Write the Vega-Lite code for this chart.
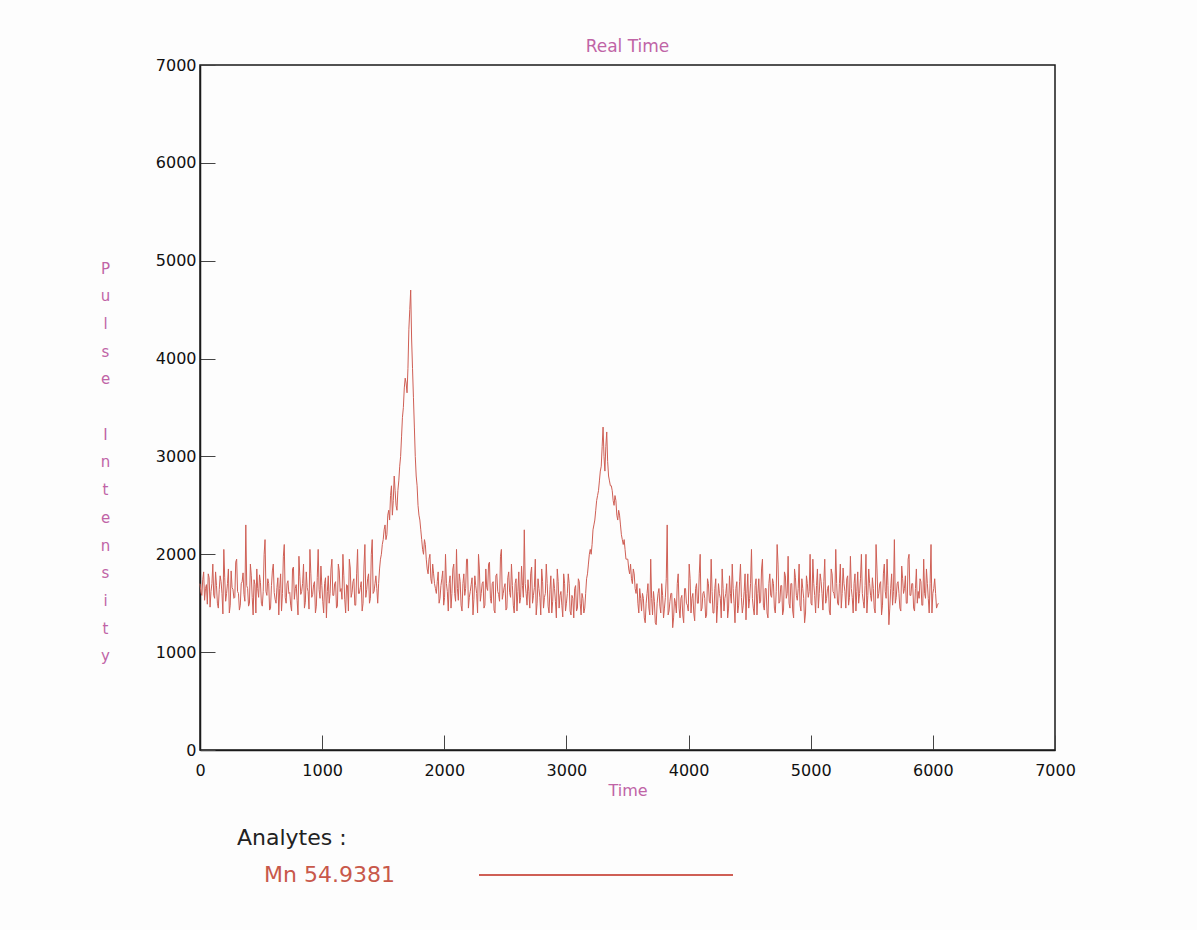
{
"$schema": "https://vega.github.io/schema/vega-lite/v6.json",
"width": 855, "height": 685,
"autosize": {"type": "none"},
"padding": {"left": 200, "top": 65, "right": 142, "bottom": 180},
"background": "#fdfdfd",
"title": {"text": "Real Time", "fontSize": 17, "color": "#c064a6", "font": "DejaVu Sans", "fontWeight": "normal", "offset": 1},
"config": {"view": {"stroke": "#1a1a1a", "strokeWidth": 1.5}, "font": "DejaVu Sans"},
"data": {"values": [
{"t":0,"v":1700},{"t":15,"v":1580},{"t":30,"v":1820},{"t":45,"v":1650},{"t":60,"v":1490},{"t":75,"v":1760},{"t":90,"v":1620},{"t":105,"v":1900},{"t":120,"v":1550},{"t":135,"v":1680},{"t":150,"v":1450},{"t":165,"v":1780},{"t":180,"v":1600},{"t":195,"v":2050},{"t":210,"v":1520},{"t":225,"v":1700},{"t":240,"v":1400},{"t":255,"v":1830},{"t":270,"v":1640},{"t":285,"v":1560},{"t":300,"v":1950},{"t":315,"v":1600},{"t":330,"v":1480},{"t":345,"v":1720},{"t":360,"v":1590},{"t":375,"v":2300},{"t":390,"v":1650},{"t":405,"v":1500},{"t":420,"v":1780},{"t":435,"v":1380},{"t":450,"v":1690},{"t":465,"v":1850},{"t":480,"v":1560},{"t":495,"v":1710},{"t":510,"v":1470},{"t":525,"v":2000},{"t":540,"v":1620},{"t":555,"v":1750},{"t":570,"v":1430},{"t":585,"v":1680},{"t":600,"v":1900},{"t":615,"v":1540},{"t":630,"v":1660},{"t":645,"v":1380},{"t":660,"v":1800},{"t":675,"v":1600},{"t":690,"v":2100},{"t":705,"v":1500},{"t":720,"v":1730},{"t":735,"v":1610},{"t":750,"v":1420},{"t":765,"v":1870},{"t":780,"v":1650},{"t":795,"v":1530},{"t":810,"v":1980},{"t":825,"v":1590},{"t":840,"v":1700},{"t":855,"v":1450},{"t":870,"v":1820},{"t":885,"v":1620},{"t":900,"v":2050},{"t":915,"v":1560},{"t":930,"v":1690},{"t":945,"v":1400},{"t":960,"v":1760},{"t":975,"v":1640},{"t":990,"v":1880},{"t":1005,"v":1520},{"t":1020,"v":1700},{"t":1035,"v":1350},{"t":1050,"v":1780},{"t":1065,"v":1600},{"t":1080,"v":1950},{"t":1095,"v":1580},{"t":1110,"v":1720},{"t":1125,"v":1470},{"t":1140,"v":1830},{"t":1155,"v":1650},{"t":1170,"v":2000},{"t":1185,"v":1540},{"t":1200,"v":1690},{"t":1215,"v":1420},{"t":1230,"v":1860},{"t":1245,"v":1610},{"t":1260,"v":1750},{"t":1275,"v":1480},{"t":1290,"v":2050},{"t":1305,"v":1600},{"t":1320,"v":1720},{"t":1335,"v":1500},{"t":1350,"v":2100},{"t":1365,"v":1640},{"t":1380,"v":1800},{"t":1395,"v":1550},{"t":1410,"v":2150},{"t":1425,"v":1620},{"t":1440,"v":1780},
{"t":1455,"v":1500},{"t":1470,"v":1850},{"t":1485,"v":2000},{"t":1500,"v":2150},{"t":1515,"v":2300},{"t":1530,"v":2200},{"t":1545,"v":2450},{"t":1560,"v":2600},{"t":1575,"v":2400},{"t":1590,"v":2800},{"t":1605,"v":2500},{"t":1620,"v":2650},{"t":1635,"v":2900},{"t":1650,"v":3200},{"t":1665,"v":3500},{"t":1680,"v":3800},{"t":1695,"v":3650},{"t":1710,"v":4300},{"t":1725,"v":4700},{"t":1740,"v":3900},{"t":1755,"v":3300},{"t":1770,"v":2800},{"t":1785,"v":2500},{"t":1800,"v":2350},{"t":1815,"v":2150},{"t":1830,"v":2000},{"t":1845,"v":2100},{"t":1860,"v":1850},{"t":1875,"v":1950},{"t":1890,"v":1750},{"t":1905,"v":1900},{"t":1920,"v":1700},
{"t":1935,"v":1600},{"t":1950,"v":1820},{"t":1965,"v":1550},{"t":1980,"v":1750},{"t":1995,"v":1480},{"t":2010,"v":2000},{"t":2025,"v":1620},{"t":2040,"v":1700},{"t":2055,"v":1450},{"t":2070,"v":1850},{"t":2085,"v":1600},{"t":2100,"v":2050},{"t":2115,"v":1530},{"t":2130,"v":1720},{"t":2145,"v":1420},{"t":2160,"v":1800},{"t":2175,"v":1650},{"t":2190,"v":1950},{"t":2205,"v":1560},{"t":2220,"v":1690},{"t":2235,"v":1380},{"t":2250,"v":1780},{"t":2265,"v":1600},{"t":2280,"v":2000},{"t":2295,"v":1520},{"t":2310,"v":1700},{"t":2325,"v":1450},{"t":2340,"v":1850},{"t":2355,"v":1630},{"t":2370,"v":1920},{"t":2385,"v":1500},{"t":2400,"v":1720},{"t":2415,"v":1400},{"t":2430,"v":1800},{"t":2445,"v":1590},{"t":2460,"v":1980},{"t":2475,"v":1540},{"t":2490,"v":1660},{"t":2505,"v":1430},{"t":2520,"v":1760},{"t":2535,"v":1610},{"t":2550,"v":1900},{"t":2565,"v":1480},{"t":2580,"v":1700},{"t":2595,"v":1420},{"t":2610,"v":1820},{"t":2625,"v":1560},{"t":2640,"v":1680},{"t":2655,"v":2250},{"t":2670,"v":1600},{"t":2685,"v":1740},{"t":2700,"v":1450},{"t":2715,"v":1870},{"t":2730,"v":1580},{"t":2745,"v":1950},{"t":2760,"v":1500},{"t":2775,"v":1650},{"t":2790,"v":1380},{"t":2805,"v":1720},{"t":2820,"v":1560},{"t":2835,"v":1900},{"t":2850,"v":1470},{"t":2865,"v":1640},{"t":2880,"v":1400},{"t":2895,"v":1750},{"t":2910,"v":1520},{"t":2925,"v":1850},{"t":2940,"v":1450},{"t":2955,"v":1620},{"t":2970,"v":1360},{"t":2985,"v":1700},{"t":3000,"v":1500},{"t":3015,"v":1800},{"t":3030,"v":1420},{"t":3045,"v":1580},{"t":3060,"v":1350},{"t":3075,"v":1680},{"t":3090,"v":1450},{"t":3105,"v":1720},{"t":3120,"v":1380},{"t":3135,"v":1550},
{"t":3150,"v":1450},{"t":3165,"v":1750},{"t":3180,"v":1900},{"t":3195,"v":2050},{"t":3210,"v":2100},{"t":3225,"v":2300},{"t":3240,"v":2450},{"t":3255,"v":2600},{"t":3270,"v":2750},{"t":3285,"v":2900},{"t":3300,"v":3300},{"t":3315,"v":2850},{"t":3330,"v":3250},{"t":3345,"v":2800},{"t":3360,"v":2700},{"t":3375,"v":2650},{"t":3390,"v":2500},{"t":3405,"v":2550},{"t":3420,"v":2350},{"t":3435,"v":2400},{"t":3450,"v":2200},{"t":3465,"v":2100},{"t":3480,"v":2050},{"t":3495,"v":1950},{"t":3510,"v":1850},{"t":3525,"v":1900},{"t":3540,"v":1700},{"t":3555,"v":1800},{"t":3570,"v":1600},
{"t":3585,"v":1500},{"t":3600,"v":1650},{"t":3615,"v":1420},{"t":3630,"v":1550},{"t":3645,"v":1300},{"t":3660,"v":1600},{"t":3675,"v":1450},{"t":3690,"v":1950},{"t":3705,"v":1380},{"t":3720,"v":1520},{"t":3735,"v":1280},{"t":3750,"v":1600},{"t":3765,"v":1470},{"t":3780,"v":1700},{"t":3795,"v":1350},{"t":3810,"v":1560},{"t":3825,"v":2300},{"t":3840,"v":1420},{"t":3855,"v":1600},{"t":3870,"v":1250},{"t":3885,"v":1550},{"t":3900,"v":1400},{"t":3915,"v":1800},{"t":3930,"v":1350},{"t":3945,"v":1580},{"t":3960,"v":1300},{"t":3975,"v":1650},{"t":3990,"v":1480},{"t":4005,"v":1900},{"t":4020,"v":1400},{"t":4035,"v":1600},{"t":4050,"v":1320},{"t":4065,"v":1700},{"t":4080,"v":1500},{"t":4095,"v":2000},{"t":4110,"v":1450},{"t":4125,"v":1620},{"t":4140,"v":1350},{"t":4155,"v":1750},{"t":4170,"v":1520},{"t":4185,"v":1950},{"t":4200,"v":1400},{"t":4215,"v":1650},{"t":4230,"v":1300},{"t":4245,"v":1700},{"t":4260,"v":1550},{"t":4275,"v":1850},{"t":4290,"v":1420},{"t":4305,"v":1600},{"t":4320,"v":1350},{"t":4335,"v":1780},{"t":4350,"v":1500},{"t":4365,"v":1650},{"t":4380,"v":1300},{"t":4395,"v":1720},{"t":4410,"v":1480},{"t":4425,"v":1900},{"t":4440,"v":1400},{"t":4455,"v":1620},{"t":4470,"v":1330},{"t":4485,"v":1800},{"t":4500,"v":1550},{"t":4515,"v":2050},{"t":4530,"v":1450},{"t":4545,"v":1680},{"t":4560,"v":1380},{"t":4575,"v":1750},{"t":4590,"v":1520},{"t":4605,"v":1950},{"t":4620,"v":1430},{"t":4635,"v":1650},{"t":4650,"v":1350},{"t":4665,"v":1800},{"t":4680,"v":1560},{"t":4695,"v":1700},{"t":4710,"v":1400},{"t":4725,"v":2100},{"t":4740,"v":1500},{"t":4755,"v":1680},{"t":4770,"v":1380},{"t":4785,"v":1820},{"t":4800,"v":1550},{"t":4815,"v":1980},{"t":4830,"v":1450},{"t":4845,"v":1700},{"t":4860,"v":1350},{"t":4875,"v":1760},{"t":4890,"v":1530},{"t":4905,"v":1900},{"t":4920,"v":1420},{"t":4935,"v":1650},{"t":4950,"v":1300},{"t":4965,"v":1780},{"t":4980,"v":1560},{"t":4995,"v":2000},{"t":5010,"v":1480},{"t":5025,"v":1700},{"t":5040,"v":1400},{"t":5055,"v":1850},{"t":5070,"v":1600},{"t":5085,"v":1720},{"t":5100,"v":1430},{"t":5115,"v":1950},{"t":5130,"v":1550},{"t":5145,"v":1680},{"t":5160,"v":1380},{"t":5175,"v":1800},{"t":5190,"v":1600},{"t":5205,"v":2050},{"t":5220,"v":1500},{"t":5235,"v":1700},{"t":5250,"v":1450},{"t":5265,"v":1860},{"t":5280,"v":1620},{"t":5295,"v":1750},{"t":5310,"v":1480},{"t":5325,"v":1980},{"t":5340,"v":1560},{"t":5355,"v":1700},{"t":5370,"v":1420},{"t":5385,"v":1820},{"t":5400,"v":1600},{"t":5415,"v":2000},{"t":5430,"v":1520},{"t":5445,"v":1680},{"t":5460,"v":1400},{"t":5475,"v":1850},{"t":5490,"v":1580},{"t":5505,"v":1760},{"t":5520,"v":1450},{"t":5535,"v":2100},{"t":5550,"v":1550},{"t":5565,"v":1700},{"t":5580,"v":1380},{"t":5595,"v":1800},{"t":5610,"v":1620},{"t":5625,"v":1950},{"t":5640,"v":1280},{"t":5655,"v":1650},{"t":5670,"v":1480},{"t":5685,"v":2150},{"t":5700,"v":1560},{"t":5715,"v":1720},{"t":5730,"v":1450},{"t":5745,"v":1880},{"t":5760,"v":1600},{"t":5775,"v":1780},{"t":5790,"v":1500},{"t":5805,"v":2000},{"t":5820,"v":1580},{"t":5835,"v":1700},{"t":5850,"v":1420},{"t":5865,"v":1850},{"t":5880,"v":1620},{"t":5895,"v":1750},{"t":5910,"v":1480},{"t":5925,"v":1950},{"t":5940,"v":1550},{"t":5955,"v":1700},{"t":5970,"v":1400},{"t":5985,"v":2100},{"t":6000,"v":1600},{"t":6015,"v":1750},{"t":6030,"v":1450},{"t":6045,"v":1500},
{"t":7.5,"v":1610},{"t":22.5,"v":1740},{"t":37.5,"v":1530},{"t":52.5,"v":1690},{"t":67.5,"v":1800},{"t":82.5,"v":1460},{"t":97.5,"v":1700},{"t":112.5,"v":1580},{"t":127.5,"v":1820},{"t":142.5,"v":1500},{"t":157.5,"v":1640},{"t":172.5,"v":1720},{"t":187.5,"v":1390},{"t":202.5,"v":1760},{"t":217.5,"v":1600},{"t":232.5,"v":1850},{"t":247.5,"v":1480},{"t":262.5,"v":1660},{"t":277.5,"v":1550},{"t":292.5,"v":1920},
{"t":307.5,"v":1620},{"t":322.5,"v":1430},{"t":337.5,"v":1700},{"t":352.5,"v":1810},{"t":367.5,"v":1520},{"t":382.5,"v":1680},{"t":397.5,"v":1470},{"t":412.5,"v":1900},{"t":427.5,"v":1560},{"t":442.5,"v":1740},{"t":457.5,"v":1400},{"t":472.5,"v":1650},{"t":487.5,"v":1790},{"t":502.5,"v":1500},{"t":517.5,"v":1620},{"t":532.5,"v":2150},{"t":547.5,"v":1580},{"t":562.5,"v":1700},{"t":577.5,"v":1450},{"t":592.5,"v":1830},
{"t":607.5,"v":1610},{"t":622.5,"v":1500},{"t":637.5,"v":1760},{"t":652.5,"v":1650},{"t":667.5,"v":1420},{"t":682.5,"v":1980},{"t":697.5,"v":1560},{"t":712.5,"v":1700},{"t":727.5,"v":1600},{"t":742.5,"v":1480},{"t":757.5,"v":1850},{"t":772.5,"v":1540},{"t":787.5,"v":1690},{"t":802.5,"v":1380},{"t":817.5,"v":1770},{"t":832.5,"v":1620},{"t":847.5,"v":1900},{"t":862.5,"v":1510},{"t":877.5,"v":1660},{"t":892.5,"v":1440},
{"t":907.5,"v":1800},{"t":922.5,"v":1590},{"t":937.5,"v":1720},{"t":952.5,"v":1470},{"t":967.5,"v":2050},{"t":982.5,"v":1550},{"t":997.5,"v":1680},{"t":1012.5,"v":1400},{"t":1027.5,"v":1760},{"t":1042.5,"v":1620},{"t":1057.5,"v":1500},{"t":1072.5,"v":1850},{"t":1087.5,"v":1580},{"t":1102.5,"v":1700},{"t":1117.5,"v":1450},{"t":1132.5,"v":1900},{"t":1147.5,"v":1620},{"t":1162.5,"v":1540},{"t":1177.5,"v":1780},{"t":1192.5,"v":1400},
{"t":1207.5,"v":1680},{"t":1222.5,"v":1950},{"t":1237.5,"v":1560},{"t":1252.5,"v":1720},{"t":1267.5,"v":1480},{"t":1282.5,"v":1800},{"t":1297.5,"v":1600},{"t":1312.5,"v":1660},{"t":1327.5,"v":1420},{"t":1342.5,"v":1880},{"t":1357.5,"v":1560},{"t":1372.5,"v":1750},{"t":1387.5,"v":1500},{"t":1402.5,"v":2000},{"t":1417.5,"v":1600},{"t":1432.5,"v":1700},{"t":1447.5,"v":1650},
{"t":1462.5,"v":1700},{"t":1477.5,"v":1950},{"t":1492.5,"v":2100},{"t":1507.5,"v":2250},{"t":1522.5,"v":2150},{"t":1537.5,"v":2400},{"t":1552.5,"v":2350},{"t":1567.5,"v":2700},{"t":1582.5,"v":2550},{"t":1597.5,"v":2650},{"t":1612.5,"v":2450},{"t":1627.5,"v":2750},{"t":1642.5,"v":3000},{"t":1657.5,"v":3400},{"t":1672.5,"v":3700},{"t":1687.5,"v":3750},{"t":1702.5,"v":3900},{"t":1717.5,"v":4500},{"t":1732.5,"v":4200},{"t":1747.5,"v":3600},{"t":1762.5,"v":3000},{"t":1777.5,"v":2700},{"t":1792.5,"v":2400},{"t":1807.5,"v":2250},{"t":1822.5,"v":2050},{"t":1837.5,"v":2150},{"t":1852.5,"v":1950},{"t":1867.5,"v":1800},{"t":1882.5,"v":2000},{"t":1897.5,"v":1700},{"t":1912.5,"v":1800},{"t":1927.5,"v":1650},
{"t":1942.5,"v":1720},{"t":1957.5,"v":1500},{"t":1972.5,"v":1680},{"t":1987.5,"v":1830},{"t":2002.5,"v":1560},{"t":2017.5,"v":1700},{"t":2032.5,"v":1420},{"t":2047.5,"v":1780},{"t":2062.5,"v":1600},{"t":2077.5,"v":1900},{"t":2092.5,"v":1520},{"t":2107.5,"v":1650},{"t":2122.5,"v":1800},{"t":2137.5,"v":1480},{"t":2152.5,"v":1700},{"t":2167.5,"v":1580},{"t":2182.5,"v":1950},{"t":2197.5,"v":1450},{"t":2212.5,"v":1620},{"t":2227.5,"v":1760},
{"t":2242.5,"v":1540},{"t":2257.5,"v":1680},{"t":2272.5,"v":1400},{"t":2287.5,"v":1850},{"t":2302.5,"v":1600},{"t":2317.5,"v":1720},{"t":2332.5,"v":1480},{"t":2347.5,"v":1660},{"t":2362.5,"v":1900},{"t":2377.5,"v":1550},{"t":2392.5,"v":1700},{"t":2407.5,"v":1430},{"t":2422.5,"v":1780},{"t":2437.5,"v":1620},{"t":2452.5,"v":1520},{"t":2467.5,"v":2050},{"t":2482.5,"v":1600},{"t":2497.5,"v":1700},{"t":2512.5,"v":1450},{"t":2527.5,"v":1820},
{"t":2542.5,"v":1560},{"t":2557.5,"v":1680},{"t":2572.5,"v":1400},{"t":2587.5,"v":1750},{"t":2602.5,"v":1620},{"t":2617.5,"v":1500},{"t":2632.5,"v":1880},{"t":2647.5,"v":1560},{"t":2662.5,"v":1700},{"t":2677.5,"v":1480},{"t":2692.5,"v":1620},{"t":2707.5,"v":1800},{"t":2722.5,"v":1500},{"t":2737.5,"v":1660},{"t":2752.5,"v":1380},{"t":2767.5,"v":1750},{"t":2782.5,"v":1560},{"t":2797.5,"v":1850},{"t":2812.5,"v":1450},{"t":2827.5,"v":1600},
{"t":2842.5,"v":1700},{"t":2857.5,"v":1400},{"t":2872.5,"v":1780},{"t":2887.5,"v":1520},{"t":2902.5,"v":1650},{"t":2917.5,"v":1350},{"t":2932.5,"v":1720},{"t":2947.5,"v":1580},{"t":2962.5,"v":1480},{"t":2977.5,"v":1800},{"t":2992.5,"v":1420},{"t":3007.5,"v":1600},{"t":3022.5,"v":1700},{"t":3037.5,"v":1380},{"t":3052.5,"v":1550},{"t":3067.5,"v":1650},{"t":3082.5,"v":1420},{"t":3097.5,"v":1750},{"t":3112.5,"v":1500},{"t":3127.5,"v":1600},{"t":3142.5,"v":1400},
{"t":3157.5,"v":1600},{"t":3172.5,"v":1800},{"t":3187.5,"v":2000},{"t":3202.5,"v":2000},{"t":3217.5,"v":2250},{"t":3232.5,"v":2350},{"t":3247.5,"v":2550},{"t":3262.5,"v":2650},{"t":3277.5,"v":2850},{"t":3292.5,"v":3100},{"t":3307.5,"v":3000},{"t":3322.5,"v":3100},{"t":3337.5,"v":2950},{"t":3352.5,"v":2750},{"t":3367.5,"v":2700},{"t":3382.5,"v":2550},{"t":3397.5,"v":2600},{"t":3412.5,"v":2400},{"t":3427.5,"v":2450},{"t":3442.5,"v":2300},{"t":3457.5,"v":2150},{"t":3472.5,"v":2150},{"t":3487.5,"v":1950},{"t":3502.5,"v":1950},{"t":3517.5,"v":1800},{"t":3532.5,"v":1750},{"t":3547.5,"v":1850},{"t":3562.5,"v":1650},{"t":3577.5,"v":1700},
{"t":3592.5,"v":1400},{"t":3607.5,"v":1550},{"t":3622.5,"v":1600},{"t":3637.5,"v":1350},{"t":3652.5,"v":1500},{"t":3667.5,"v":1700},{"t":3682.5,"v":1380},{"t":3697.5,"v":1550},{"t":3712.5,"v":1620},{"t":3727.5,"v":1300},{"t":3742.5,"v":1500},{"t":3757.5,"v":1650},{"t":3772.5,"v":1400},{"t":3787.5,"v":1580},{"t":3802.5,"v":1450},{"t":3817.5,"v":1750},{"t":3832.5,"v":1380},{"t":3847.5,"v":1520},{"t":3862.5,"v":1600},{"t":3877.5,"v":1350},
{"t":3892.5,"v":1500},{"t":3907.5,"v":1700},{"t":3922.5,"v":1450},{"t":3937.5,"v":1550},{"t":3952.5,"v":1380},{"t":3967.5,"v":1650},{"t":3982.5,"v":1500},{"t":3997.5,"v":1420},{"t":4012.5,"v":1750},{"t":4027.5,"v":1550},{"t":4042.5,"v":1400},{"t":4057.5,"v":1650},{"t":4072.5,"v":1500},{"t":4087.5,"v":1800},{"t":4102.5,"v":1420},{"t":4117.5,"v":1600},{"t":4132.5,"v":1550},{"t":4147.5,"v":1380},{"t":4162.5,"v":1700},{"t":4177.5,"v":1500},
{"t":4192.5,"v":1620},{"t":4207.5,"v":1400},{"t":4222.5,"v":1750},{"t":4237.5,"v":1480},{"t":4252.5,"v":1600},{"t":4267.5,"v":1350},{"t":4282.5,"v":1650},{"t":4297.5,"v":1550},{"t":4312.5,"v":1700},{"t":4327.5,"v":1450},{"t":4342.5,"v":1600},{"t":4357.5,"v":1900},{"t":4372.5,"v":1500},{"t":4387.5,"v":1650},{"t":4402.5,"v":1400},{"t":4417.5,"v":1720},{"t":4432.5,"v":1560},{"t":4447.5,"v":1480},{"t":4462.5,"v":1800},{"t":4477.5,"v":1600},
{"t":4492.5,"v":1450},{"t":4507.5,"v":1700},{"t":4522.5,"v":1550},{"t":4537.5,"v":1380},{"t":4552.5,"v":1750},{"t":4567.5,"v":1600},{"t":4582.5,"v":1500},{"t":4597.5,"v":1850},{"t":4612.5,"v":1480},{"t":4627.5,"v":1650},{"t":4642.5,"v":1400},{"t":4657.5,"v":1700},{"t":4672.5,"v":1580},{"t":4687.5,"v":1750},{"t":4702.5,"v":1450},{"t":4717.5,"v":1620},{"t":4732.5,"v":1900},{"t":4747.5,"v":1520},{"t":4762.5,"v":1680},{"t":4777.5,"v":1430},
{"t":4792.5,"v":1780},{"t":4807.5,"v":1600},{"t":4822.5,"v":1500},{"t":4837.5,"v":1700},{"t":4852.5,"v":1420},{"t":4867.5,"v":1850},{"t":4882.5,"v":1580},{"t":4897.5,"v":1650},{"t":4912.5,"v":1480},{"t":4927.5,"v":1750},{"t":4942.5,"v":1550},{"t":4957.5,"v":1400},{"t":4972.5,"v":1700},{"t":4987.5,"v":1620},{"t":5002.5,"v":1500},{"t":5017.5,"v":1950},{"t":5032.5,"v":1580},{"t":5047.5,"v":1680},{"t":5062.5,"v":1450},{"t":5077.5,"v":1800},
{"t":5092.5,"v":1600},{"t":5107.5,"v":1720},{"t":5122.5,"v":1500},{"t":5137.5,"v":1650},{"t":5152.5,"v":1420},{"t":5167.5,"v":1850},{"t":5182.5,"v":1620},{"t":5197.5,"v":1550},{"t":5212.5,"v":1700},{"t":5227.5,"v":1480},{"t":5242.5,"v":1900},{"t":5257.5,"v":1600},{"t":5272.5,"v":1700},{"t":5287.5,"v":1450},{"t":5302.5,"v":1780},{"t":5317.5,"v":1560},{"t":5332.5,"v":1650},{"t":5347.5,"v":1400},{"t":5362.5,"v":1800},{"t":5377.5,"v":1620},
{"t":5392.5,"v":1500},{"t":5407.5,"v":1750},{"t":5422.5,"v":1600},{"t":5437.5,"v":1450},{"t":5452.5,"v":2000},{"t":5467.5,"v":1580},{"t":5482.5,"v":1700},{"t":5497.5,"v":1520},{"t":5512.5,"v":1650},{"t":5527.5,"v":1400},{"t":5542.5,"v":1850},{"t":5557.5,"v":1600},{"t":5572.5,"v":1720},{"t":5587.5,"v":1480},{"t":5602.5,"v":1900},{"t":5617.5,"v":1550},{"t":5632.5,"v":1680},{"t":5647.5,"v":1450},{"t":5662.5,"v":1800},{"t":5677.5,"v":1620},
{"t":5692.5,"v":1500},{"t":5707.5,"v":1700},{"t":5722.5,"v":1600},{"t":5737.5,"v":1420},{"t":5752.5,"v":1750},{"t":5767.5,"v":1650},{"t":5782.5,"v":1500},{"t":5797.5,"v":1950},{"t":5812.5,"v":1580},{"t":5827.5,"v":1700},{"t":5842.5,"v":1450},{"t":5857.5,"v":1650},{"t":5872.5,"v":1500},{"t":5887.5,"v":1550},{"t":5902.5,"v":1720},{"t":5917.5,"v":1480},{"t":5932.5,"v":1600},{"t":5947.5,"v":1850},{"t":5962.5,"v":1550},{"t":5977.5,"v":1700},{"t":5992.5,"v":1400},{"t":6007.5,"v":1650},{"t":6022.5,"v":1600},{"t":6037.5,"v":1480}
]},
"mark": {"type": "line", "strokeWidth": 1},
"encoding": {
  "x": {"field": "t", "type": "quantitative", "scale": {"domain": [0, 7000], "nice": false},
    "axis": {"values": [0,1000,2000,3000,4000,5000,6000,7000], "format": "d", "grid": false, "tickSize": -15, "tickColor": "#444", "domainColor": "#1a1a1a", "domainWidth": 1.5, "labelFlush": false, "labelFontSize": 16, "labelColor": "#111", "labelFontWeight": "normal", "labelPadding": 27, "labelFont": "DejaVu Sans",
      "title": "Time", "titleColor": "#c064a6", "titleFontSize": 16, "titleFontWeight": "normal", "titleFont": "DejaVu Sans", "titleY": 40, "titleBaseline": "middle"}},
  "y": {"field": "v", "type": "quantitative", "scale": {"domain": [0, 7000], "nice": false},
    "axis": {"values": [0,1000,2000,3000,4000,5000,6000,7000], "format": "d", "grid": false, "tickSize": -15, "tickColor": "#444", "domainColor": "#1a1a1a", "domainWidth": 1.5, "labelFontSize": 16, "labelColor": "#111", "labelFontWeight": "normal", "labelPadding": 19, "labelFont": "DejaVu Sans",
      "title": ["P","u","l","s","e","\u200b","I","n","t","e","n","s","i","t","y"], "titleAngle": 0, "titleX": -95, "titleY": 203, "titleAlign": "center", "titleBaseline": "middle", "titleLineHeight": 27.7, "titleColor": "#c064a6", "titleFontSize": 15, "titleFontWeight": "normal", "titleFont": "DejaVu Sans"}},
  "color": {"datum": "Mn 54.9381", "type": "nominal", "scale": {"range": ["#cf5f55"]},
    "legend": {"orient": "none", "legendX": 37, "legendY": 763, "padding": 0, "title": "Analytes :", "titleFontSize": 22, "titleColor": "#222", "titleFontWeight": "normal", "titleFont": "DejaVu Sans", "titlePadding": -103, "labelFontSize": 22, "labelColor": "#c8584a", "labelFont": "DejaVu Sans", "symbolType": "stroke", "symbolSize": 64516, "symbolStrokeWidth": 2, "labelOffset": -470, "symbolOffset": 241}}
}
}
